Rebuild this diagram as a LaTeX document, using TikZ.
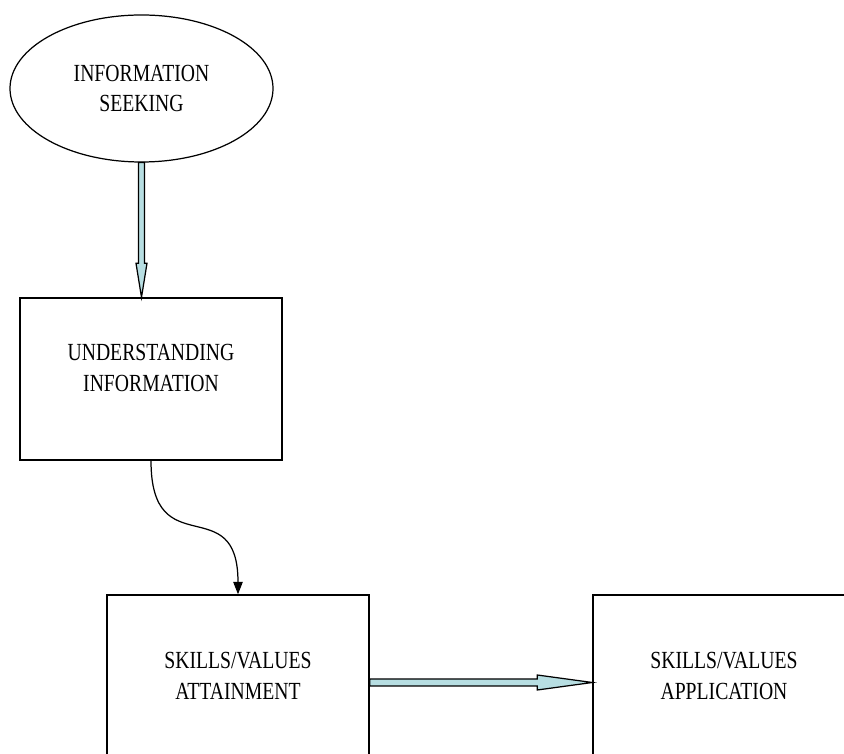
\documentclass[tikz,border=0pt]{standalone}
\usepackage{fontspec}
\setmainfont{Liberation Serif}[FakeStretch=0.8]
\usetikzlibrary{arrows.meta,positioning,shapes.geometric,calc}
\usepackage{xcolor}
\definecolor{arrowblue}{RGB}{183,222,226}

\begin{document}
\begin{tikzpicture}[
    stage/.style={rectangle, draw, line width=0.8pt, minimum width=5.24cm, minimum height=3.24cm, align=center, font=\fontsize{14}{17.6}\selectfont},
    start/.style={ellipse, draw, line width=0.7pt, minimum width=5.26cm, minimum height=2.94cm, inner sep=0pt, align=center, font=\fontsize{14}{17.6}\selectfont},
    fat/.style={draw, line width=0.7pt, fill=arrowblue, line join=miter},
    flow/.style={-{Triangle[width=0.19cm,length=0.25cm]}, line width=0.7pt}
]
\useasboundingbox (0,0) rectangle (16.88,-15.08);

\node[start] (seek) at (2.83,-1.77) {INFORMATION\\SEEKING};
\node[stage, text depth=0.46cm] (under) at (3.02,-7.58) {UNDERSTANDING\\INFORMATION};
\node[stage] (attain) at (4.76,-13.52) {SKILLS/VALUES\\ATTAINMENT};
\node[stage] (apply) at (14.48,-13.52) {SKILLS/VALUES\\APPLICATION};

% hollow arrows
\draw[fat] ($(seek.south)+(-0.06,0)$) -- ($(seek.south |- under.north)+(-0.06,0.68)$)
    -- ($(seek.south |- under.north)+(-0.11,0.68)$) -- (seek.south |- under.north)
    -- ($(seek.south |- under.north)+(0.11,0.68)$) -- ($(seek.south |- under.north)+(0.06,0.68)$)
    -- ($(seek.south)+(0.06,0)$) -- cycle;
\draw[fat] ($(attain.east)+(0,-0.06)$) -- ($(apply.west)+(-1.1,-0.06)$)
    -- ($(apply.west)+(-1.1,0.02)$) -- ($(apply.west)+(0,-0.13)$)
    -- ($(apply.west)+(-1.1,-0.28)$) -- ($(apply.west)+(-1.1,-0.2)$)
    -- ($(attain.east)+(0,-0.2)$) -- cycle;

\draw[flow] (under.south) to[out=-90, in=90, looseness=1.7] (attain.north);
\end{tikzpicture}
\end{document}
